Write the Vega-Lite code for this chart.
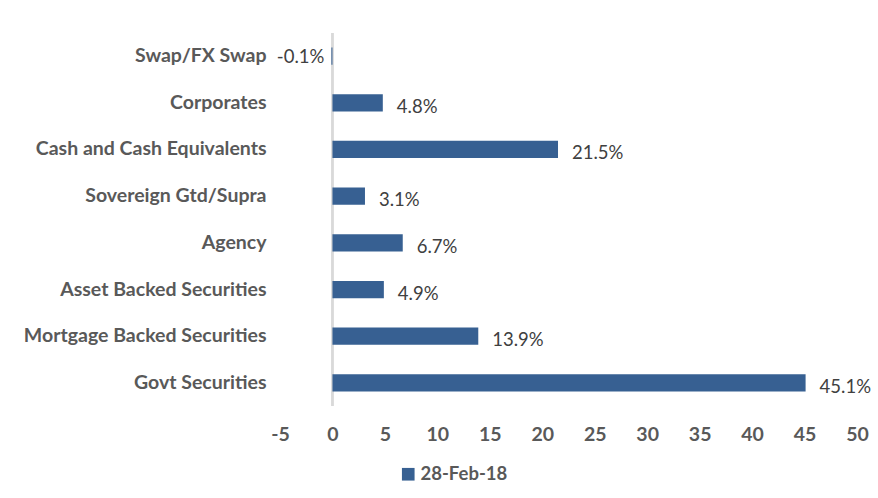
{
  "$schema": "https://vega.github.io/schema/vega-lite/v6.json",
  "width": 577,
  "height": 373,
  "autosize": "none",
  "padding": {"left": 280, "top": 33, "right": 21, "bottom": 92},
  "background": "white",
  "config": {"view": {"stroke": null}, "font": "Lato"},
  "data": {
    "values": [
      {"category": "Swap/FX Swap", "value": -0.1, "label": "-0.1%", "series": "28-Feb-18"},
      {"category": "Corporates", "value": 4.8, "label": "4.8%", "series": "28-Feb-18"},
      {"category": "Cash and Cash Equivalents", "value": 21.5, "label": "21.5%", "series": "28-Feb-18"},
      {"category": "Sovereign Gtd/Supra", "value": 3.1, "label": "3.1%", "series": "28-Feb-18"},
      {"category": "Agency", "value": 6.7, "label": "6.7%", "series": "28-Feb-18"},
      {"category": "Asset Backed Securities", "value": 4.9, "label": "4.9%", "series": "28-Feb-18"},
      {"category": "Mortgage Backed Securities", "value": 13.9, "label": "13.9%", "series": "28-Feb-18"},
      {"category": "Govt Securities", "value": 45.1, "label": "45.1%", "series": "28-Feb-18"}
    ]
  },
  "layer": [
    {
      "mark": {"type": "rule", "color": "#D9D9D9", "strokeWidth": 1.5},
      "encoding": {"x": {"datum": 0, "type": "quantitative", "scale": {"domain": [-5, 50], "nice": false}}}
    },
    {
      "mark": {"type": "bar"},
      "encoding": {
        "y": {
          "field": "category", "type": "nominal", "sort": null,
          "scale": {"paddingInner": 0.63, "paddingOuter": 0.31},
          "axis": {"title": null, "domain": false, "ticks": false, "labelPadding": 14, "labelLimit": 400, "labelFont": "Lato", "labelFontWeight": "bold", "labelFontSize": 19.5, "labelColor": "#595959"}
        },
        "x": {
          "field": "value", "type": "quantitative",
          "scale": {"domain": [-5, 50], "nice": false, "zero": false},
          "axis": {"title": null, "domain": false, "ticks": false, "grid": false, "values": [-5, 0, 5, 10, 15, 20, 25, 30, 35, 40, 45, 50], "labelExpr": "'' + datum.value", "labelPadding": 19, "labelFont": "Lato", "labelFontWeight": "bold", "labelFontSize": 19.5, "labelColor": "#595959", "labelFlush": false}
        },
        "color": {
          "field": "series", "type": "nominal",
          "scale": {"domain": ["28-Feb-18"], "range": ["#376092"]},
          "legend": {"title": null, "orient": "none", "legendX": 119, "legendY": 432, "symbolType": "square", "symbolSize": 160, "symbolStrokeWidth": 0, "labelFont": "Lato", "labelFontWeight": "bold", "labelFontSize": 18.5, "labelColor": "#595959", "labelOffset": 3}
        }
      }
    },
    {
      "transform": [{"filter": "datum.value >= 0"}],
      "mark": {"type": "text", "align": "left", "baseline": "middle", "dx": 14, "dy": 4, "font": "Lato", "fontSize": 18.5, "color": "#404040"},
      "encoding": {
        "y": {"field": "category", "type": "nominal", "sort": null},
        "x": {"field": "value", "type": "quantitative"},
        "text": {"field": "label"}
      }
    },
    {
      "transform": [{"filter": "datum.value < 0"}],
      "mark": {"type": "text", "align": "right", "baseline": "middle", "dx": -7, "dy": 1, "font": "Lato", "fontSize": 18.5, "color": "#404040"},
      "encoding": {
        "y": {"field": "category", "type": "nominal", "sort": null},
        "x": {"field": "value", "type": "quantitative"},
        "text": {"field": "label"}
      }
    }
  ]
}
